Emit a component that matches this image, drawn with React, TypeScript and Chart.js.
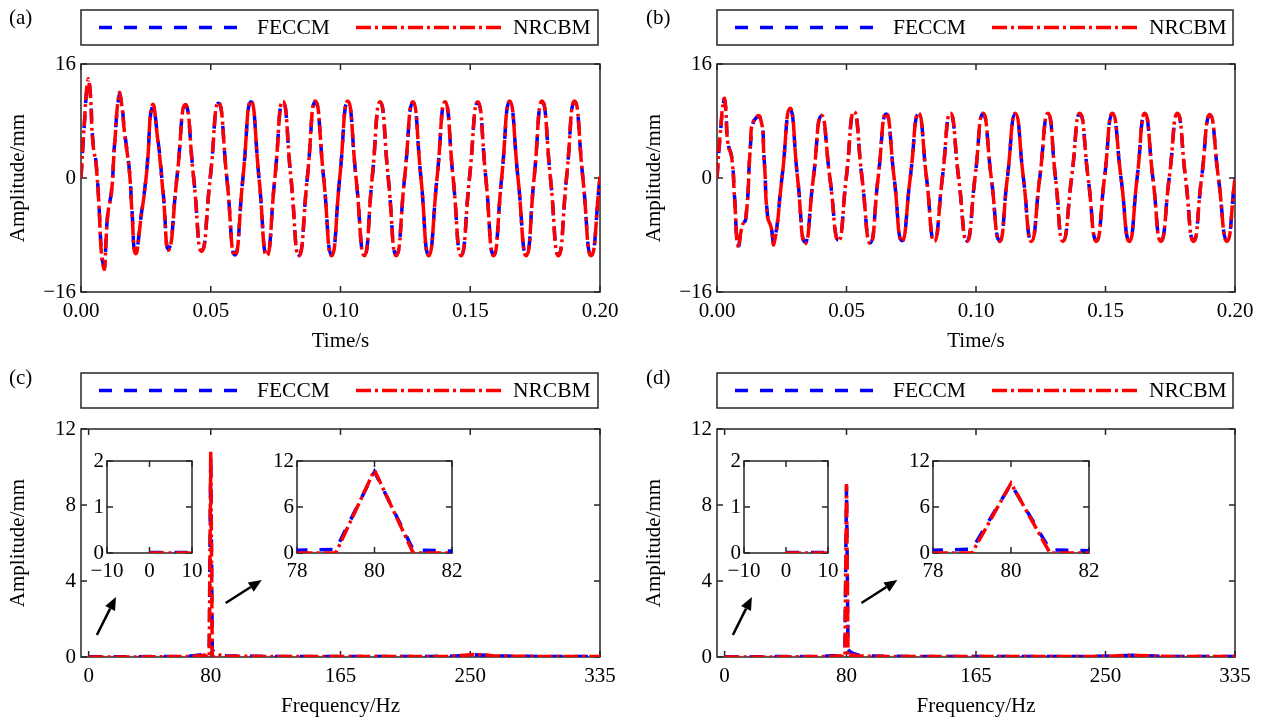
import React, { useEffect, useRef } from 'react';
import { Chart, registerables } from 'chart.js';

Chart.register(...registerables);

const FONT = '"Liberation Serif", "Times New Roman", serif';
const AXIS_COLOR = '#262626';
const BLUE = '#0000ff';
const RED = '#ff0000';
const BLUE_DASH = [13, 12];
const RED_DASH = [15, 4, 3, 4];

const seriesLabels = ['FECCM', 'NRCBM'];

// ---- Panel (a): time response, case 1 ----
const timeA = [
  0, 0.0012, 0.0027, 0.0035, 0.0046, 0.0059, 0.0087, 0.0104, 0.0117, 0.013, 0.0147, 0.0155, 0.0168, 0.0187, 0.0196, 0.021,
  0.0232, 0.0253, 0.0275, 0.0296, 0.0316, 0.0338,
  0.037, 0.0402, 0.0434, 0.0465, 0.0498, 0.053, 0.0562, 0.0593, 0.0624, 0.0655,
  0.0686, 0.0716, 0.0747, 0.0778, 0.0809, 0.084, 0.0872, 0.0903, 0.0935, 0.0966,
  0.0997, 0.1028, 0.106, 0.1092, 0.1122, 0.1153, 0.1184, 0.1215, 0.1247, 0.1279,
  0.131, 0.134, 0.1372, 0.1403, 0.1434, 0.1465, 0.1497, 0.1529, 0.156, 0.159,
  0.1621, 0.1652, 0.1684, 0.1716, 0.1746, 0.1777, 0.1809, 0.184, 0.1871, 0.1902,
  0.1934, 0.1966, 0.2,
];
const ampA_NRCBM = [
  0, 7.2, 13.8, 12.2, 4.9, 1.6, -12.6, -4.9, -2.2, 4.9, 11.9, 10.8, 6.3, 0.7, -4.5, -10.6,
  -5.4, 0.8, 10.2, 5.3, -2.0, -10.1,
  0.1, 10.3, 0, -10.3, 0, 10.6, 0, -10.9, 0, 10.8,
  0, -10.9, 0, 10.8, 0, -10.9, 0, 10.8, 0, -10.9,
  0, 10.8, 0, -10.9, 0, 10.7, 0, -10.9, 0, 10.7,
  0, -10.9, 0, 10.7, 0, -10.9, 0, 10.7, 0, -10.9,
  0, 10.8, 0, -10.9, 0, 10.8, 0, -10.9, 0, 10.8,
  0, -10.9, 0.2,
];
const ampA_FECCM = [
  0, 7.0, 13.5, 12.4, 5.1, 1.8, -12.3, -4.7, -2.0, 5.1, 11.6, 10.9, 6.5, 0.9, -4.3, -10.4,
  -5.2, 1.0, 10.0, 5.5, -1.8, -9.9,
  0.2, 10.2, 0.1, -10.2, 0.1, 10.5, 0, -10.8, 0, 10.7,
  0, -10.8, 0, 10.7, 0, -10.8, 0, 10.7, 0, -10.8,
  0, 10.7, 0, -10.8, 0, 10.6, 0, -10.8, 0, 10.6,
  0, -10.8, 0, 10.6, 0, -10.8, 0, 10.6, 0, -10.8,
  0, 10.7, 0, -10.8, 0, 10.7, 0, -10.8, 0, 10.7,
  0, -10.8, 0.1,
];

// ---- Panel (b): time response, case 2 ----
const timeB = [
  0, 0.0012, 0.0027, 0.0033, 0.0042, 0.0057, 0.0068, 0.0082, 0.0098, 0.0111, 0.013, 0.014, 0.0166, 0.0182, 0.0195, 0.0208, 0.022,
  0.0251, 0.0282, 0.0311, 0.034, 0.0372, 0.0403, 0.0436, 0.0469, 0.0499, 0.0529,
  0.056, 0.0592, 0.0622, 0.0653, 0.0684, 0.0714, 0.0746, 0.0778, 0.0809, 0.0839,
  0.087, 0.0901, 0.0933, 0.0965, 0.0996, 0.1027, 0.1059, 0.1091, 0.1121, 0.1152,
  0.1183, 0.1214, 0.1246, 0.1278, 0.1307, 0.1336, 0.1369, 0.1401, 0.1433, 0.1465,
  0.1496, 0.1527, 0.156, 0.1592, 0.1622, 0.1652, 0.1683, 0.1714, 0.1746, 0.1778,
  0.1809, 0.184, 0.1871, 0.1903, 0.1936, 0.1969, 0.2,
];
const ampB_NRCBM = [
  0, 6.0, 11.1, 10.0, 4.9, 2.8, -3.0, -9.6, -6.6, -5.9, 4.9, 7.9, 8.6, 2.5, -5.4, -6.8, -9.2,
  0, 9.8, 0, -9.2, 0, 8.8, 0, -8.8, 0, 9.3,
  0, -9.2, 0, 9.1, 0, -8.9, 0, 9.1, 0, -8.9,
  0, 9.1, 0, -8.9, 0, 9.1, 0, -8.9, 0, 9.1,
  0, -8.9, 0, 9.1, 0, -8.9, 0, 9.1, 0, -8.9,
  0, 9.1, 0, -8.9, 0, 9.1, 0, -8.9, 0, 9.1,
  0, -8.9, 0, 8.9, 0, -8.9, 0,
];
const ampB_FECCM = [
  0, 5.8, 10.9, 10.1, 5.0, 2.9, -2.8, -9.4, -6.5, -5.8, 5.0, 7.8, 8.5, 2.6, -5.2, -6.7, -9.0,
  0.1, 9.6, 0.1, -9.0, 0, 8.7, 0, -8.7, 0, 9.2,
  0, -9.1, 0, 9.0, 0, -8.8, 0, 9.0, 0, -8.8,
  0, 9.0, 0, -8.8, 0, 9.0, 0, -8.8, 0, 9.0,
  0, -8.8, 0, 9.0, 0, -8.8, 0, 9.0, 0, -8.8,
  0, 9.0, 0, -8.8, 0, 9.0, 0, -8.8, 0, 9.0,
  0, -8.8, 0, 8.8, 0, -8.8, 0,
];

// ---- Panel (c): spectrum, case 1 ----
const freqC = [
  0, 10, 20, 30, 40, 50, 60, 65, 70, 74, 76, 78, 79, 80, 81, 82, 84, 87, 90, 95,
  100, 110, 125, 140, 165, 190, 210, 225, 235, 242, 248, 252, 256, 260, 265, 272, 280, 295, 310, 335,
];
const specC_FECCM = [
  0.01, 0.01, 0.01, 0.01, 0.02, 0.02, 0.03, 0.04, 0.08, 0.12, 0.15, 0.35, 0.45, 10.6, 0.4, 0.25, 0.18, 0.1, 0.07, 0.05,
  0.05, 0.04, 0.03, 0.03, 0.02, 0.02, 0.02, 0.03, 0.04, 0.06, 0.09, 0.12, 0.11, 0.09, 0.07, 0.05, 0.04, 0.03, 0.02, 0.02,
];
const specC_NRCBM = [
  0, 0, 0, 0, 0.01, 0.01, 0.02, 0.03, 0.05, 0.08, 0.1, 0, 0, 10.8, 0, 0, 0.15, 0.08, 0.05, 0.04,
  0.04, 0.03, 0.03, 0.02, 0.02, 0.02, 0.02, 0.03, 0.04, 0.06, 0.1, 0.13, 0.12, 0.1, 0.07, 0.05, 0.04, 0.03, 0.02, 0.02,
];

// ---- Panel (d): spectrum, case 2 ----
const freqD = [
  0, 10, 20, 30, 40, 50, 60, 65, 70, 74, 76, 78, 79, 80, 81, 82, 84, 87, 90, 95,
  100, 110, 125, 140, 165, 190, 210, 225, 240, 250, 258, 264, 268, 272, 278, 285, 295, 310, 320, 335,
];
const specD_FECCM = [
  0.01, 0.01, 0.01, 0.02, 0.02, 0.02, 0.03, 0.04, 0.06, 0.08, 0.1, 0.35, 0.5, 9.0, 0.4, 0.3, 0.2, 0.12, 0.08, 0.05,
  0.05, 0.04, 0.03, 0.03, 0.02, 0.02, 0.02, 0.02, 0.03, 0.04, 0.06, 0.08, 0.09, 0.08, 0.06, 0.04, 0.03, 0.02, 0.02, 0.02,
];
const specD_NRCBM = [
  0, 0, 0, 0, 0.01, 0.01, 0.02, 0.02, 0.03, 0.05, 0.06, 0, 0, 9.1, 0, 0, 0.12, 0.07, 0.05, 0.04,
  0.03, 0.03, 0.02, 0.02, 0.02, 0.02, 0.02, 0.02, 0.03, 0.04, 0.06, 0.08, 0.09, 0.08, 0.06, 0.04, 0.03, 0.02, 0.02, 0.02,
];

// ---- tick labels ----
const timeTicks = [0, 0.05, 0.1, 0.15, 0.2];
const timeAmpTicks = [-16, 0, 16];
const freqTicks = [0, 80, 165, 250, 335];
const freqAmpTicks = [0, 4, 8, 12];
const lowFreqTicks = [-10, 0, 10];
const lowAmpTicks = [0, 1, 2];
const peakFreqTicks = [78, 80, 82];
const peakAmpTicks = [0, 6, 12];

// annotation arrows in data units [x1, y1, x2, y2]
const freqArrows = [
  [5.4, 1.16, 17.9, 3.16],
  [89.8, 2.84, 113.4, 4.05],
];

type Rect = { l: number; t: number; r: number; b: number };
type Spec = {
  id: string;
  canvas: Rect;
  area: Rect;
  xs: number[];
  fe: number[];
  nr: number[];
  smooth: boolean;
  xMin: number;
  xMax: number;
  xTicks: number[];
  xFmt: (v: number) => string;
  yMin: number;
  yMax: number;
  yTicks: number[];
  xTitle?: string;
  yTitle?: string;
  xTitleY?: number;
  yTitleX?: number;
  xLabelGap: number;
  yLabelPad: number;
  legend?: { top: number; bottom: number };
  panel?: { text: string; x: number; y: number };
  arrows?: number[][];
  inset?: boolean;
};

const FS = 21;
const LH = FS * 1.2;

const signed = (v: number) => (v < 0 ? '\u2212' + Math.abs(v) : String(v));
const fixed2 = (v: number) => v.toFixed(2);

const framePlugin = {
  id: 'frame',
  beforeDraw(chart: any, _args: any, opts: any) {
    if (!opts.whiteArea) return;
    const { ctx, chartArea: a } = chart;
    ctx.save();
    ctx.fillStyle = '#ffffff';
    ctx.fillRect(a.left, a.top, a.right - a.left, a.bottom - a.top);
    ctx.restore();
  },
  beforeDatasetsDraw(chart: any) {
    const { ctx, chartArea: a, scales } = chart;
    const x = scales.x;
    const y = scales.y;
    const tl = 6;
    ctx.save();
    ctx.strokeStyle = AXIS_COLOR;
    ctx.lineWidth = 1.5;
    ctx.strokeRect(a.left, a.top, a.right - a.left, a.bottom - a.top);
    ctx.beginPath();
    x.ticks.forEach((t: any) => {
      const px = x.getPixelForValue(t.value);
      ctx.moveTo(px, a.bottom);
      ctx.lineTo(px, a.bottom - tl);
      ctx.moveTo(px, a.top);
      ctx.lineTo(px, a.top + tl);
    });
    y.ticks.forEach((t: any) => {
      const py = y.getPixelForValue(t.value);
      ctx.moveTo(a.left, py);
      ctx.lineTo(a.left + tl, py);
      ctx.moveTo(a.right, py);
      ctx.lineTo(a.right - tl, py);
    });
    ctx.stroke();
    ctx.restore();
  },
  afterDatasetsDraw(chart: any, _args: any, opts: any) {
    const { ctx, chartArea: a, scales } = chart;
    const x = scales.x;
    const y = scales.y;
    ctx.save();
    (opts.arrows || []).forEach((ar: number[]) => {
      const x1 = x.getPixelForValue(ar[0]);
      const y1 = y.getPixelForValue(ar[1]);
      const x2 = x.getPixelForValue(ar[2]);
      const y2 = y.getPixelForValue(ar[3]);
      const ang = Math.atan2(y2 - y1, x2 - x1);
      const hl = 13;
      const hw = 5.5;
      const bx = x2 - hl * Math.cos(ang);
      const by = y2 - hl * Math.sin(ang);
      ctx.strokeStyle = '#000';
      ctx.lineWidth = 2.5;
      ctx.beginPath();
      ctx.moveTo(x1, y1);
      ctx.lineTo(bx, by);
      ctx.stroke();
      ctx.fillStyle = '#000';
      ctx.beginPath();
      ctx.moveTo(x2, y2);
      ctx.lineTo(bx + hw * Math.sin(ang), by - hw * Math.cos(ang));
      ctx.lineTo(bx - hw * Math.sin(ang), by + hw * Math.cos(ang));
      ctx.closePath();
      ctx.fill();
    });
    if (opts.legend) {
      const { top, bottom } = opts.legend;
      const L = a.left;
      const R = a.right - 2;
      ctx.strokeStyle = AXIS_COLOR;
      ctx.lineWidth = 1.5;
      ctx.strokeRect(L, top, R - L, bottom - top);
      const cy = (top + bottom) / 2;
      const layout = [
        [18, 160, 176],
        [275, 422, 432],
      ];
      chart.data.datasets.forEach((d: any, i: number) => {
        const [lx1, lx2, tx] = layout[i];
        ctx.save();
        ctx.strokeStyle = d.borderColor;
        ctx.lineWidth = d.borderWidth;
        ctx.setLineDash(d.borderDash);
        ctx.beginPath();
        ctx.moveTo(L + lx1, cy);
        ctx.lineTo(L + lx2, cy);
        ctx.stroke();
        ctx.restore();
        ctx.fillStyle = '#000';
        ctx.font = `21.5px ${FONT}`;
        ctx.textBaseline = 'middle';
        ctx.textAlign = 'left';
        ctx.fillText(d.label, L + tx, cy + 1);
      });
    }
    if (opts.panel) {
      ctx.fillStyle = '#000';
      ctx.font = `${FS}px ${FONT}`;
      ctx.textBaseline = 'middle';
      ctx.textAlign = 'left';
      ctx.fillText(opts.panel.text, opts.panel.x, opts.panel.y);
    }
    ctx.restore();
  },
};

function buildConfig(s: Spec) {
  const padTop = s.area.t - s.canvas.t;
  const padRight = s.canvas.r - s.area.r;
  const yW = s.area.l - s.canvas.l;
  const xH = s.canvas.b - s.area.b;
  const tickFont = { family: FONT, size: FS };
  const mk = (label: string, ys: number[], color: string, dash: number[], order: number) => ({
    label,
    data: s.xs.map((xv, i) => ({ x: xv, y: ys[i] })),
    borderColor: color,
    borderDash: dash,
    borderWidth: 3.5,
    pointRadius: 0,
    fill: false,
    order,
    tension: s.smooth ? 0.55 : 0,
    cubicInterpolationMode: 'default',
  });
  return {
    type: 'line',
    data: {
      datasets: [
        mk(seriesLabels[0], s.fe, BLUE, BLUE_DASH, 2),
        mk(seriesLabels[1], s.nr, RED, RED_DASH, 1),
      ],
    },
    options: {
      responsive: false,
      maintainAspectRatio: false,
      animation: false,
      events: [],
      layout: { padding: { left: 0, top: padTop, right: padRight, bottom: 0 } },
      plugins: {
        legend: { display: false },
        tooltip: { enabled: false },
        frame: {
          whiteArea: !!s.inset,
          arrows: s.arrows,
          legend: s.legend ? { top: s.legend.top - s.canvas.t, bottom: s.legend.bottom - s.canvas.t } : null,
          panel: s.panel ? { text: s.panel.text, x: s.panel.x - s.canvas.l, y: s.panel.y - s.canvas.t } : null,
        },
      },
      scales: {
        x: {
          type: 'linear',
          min: s.xMin,
          max: s.xMax,
          bounds: 'data',
          afterBuildTicks: (sc: any) => {
            sc.ticks = s.xTicks.map((v) => ({ value: v }));
          },
          afterFit: (sc: any) => {
            sc.height = xH;
          },
          grid: { display: false, drawTicks: false },
          border: { display: false },
          ticks: {
            autoSkip: false,
            maxRotation: 0,
            padding: s.xLabelGap - LH / 2,
            font: tickFont,
            color: '#000',
            callback: (v: any) => s.xFmt(Number(v)),
          },
          title: s.xTitle
            ? {
                display: true,
                text: s.xTitle,
                color: '#000',
                font: tickFont,
                padding: { top: 0, bottom: s.canvas.b - (s.xTitleY as number) - LH / 2 },
              }
            : { display: false },
        },
        y: {
          type: 'linear',
          min: s.yMin,
          max: s.yMax,
          bounds: 'data',
          afterBuildTicks: (sc: any) => {
            sc.ticks = s.yTicks.map((v) => ({ value: v }));
          },
          afterFit: (sc: any) => {
            sc.width = yW;
          },
          grid: { display: false, drawTicks: false },
          border: { display: false },
          ticks: {
            autoSkip: false,
            padding: s.yLabelPad,
            font: tickFont,
            color: '#000',
            callback: (v: any) => signed(Number(v)),
          },
          title: s.yTitle
            ? {
                display: true,
                text: s.yTitle,
                color: '#000',
                font: tickFont,
                padding: { top: (s.yTitleX as number) - s.canvas.l - LH / 2, bottom: 0 },
              }
            : { display: false },
        },
      },
    },
    plugins: [framePlugin],
  };
}

const mainCommon = {
  xLabelGap: 19,
  yLabelPad: 5,
  yTitle: 'Amplitude/mm',
};

const insetCommon = {
  xLabelGap: 18,
  yLabelPad: 3,
  smooth: false,
  inset: true,
};

const specs: Spec[] = [
  {
    ...mainCommon,
    id: 'a',
    canvas: { l: 0, t: 0, r: 631, b: 362 },
    area: { l: 81, t: 64, r: 600, b: 292 },
    xs: timeA, fe: ampA_FECCM, nr: ampA_NRCBM, smooth: true,
    xMin: 0, xMax: 0.2, xTicks: timeTicks, xFmt: fixed2,
    yMin: -16, yMax: 16, yTicks: timeAmpTicks,
    xTitle: 'Time/s', xTitleY: 341, yTitleX: 18,
    legend: { top: 10, bottom: 45 },
    panel: { text: '(a)', x: 9, y: 18 },
  },
  {
    ...mainCommon,
    id: 'b',
    canvas: { l: 631, t: 0, r: 1262, b: 362 },
    area: { l: 717, t: 64, r: 1235, b: 292 },
    xs: timeB, fe: ampB_FECCM, nr: ampB_NRCBM, smooth: true,
    xMin: 0, xMax: 0.2, xTicks: timeTicks, xFmt: fixed2,
    yMin: -16, yMax: 16, yTicks: timeAmpTicks,
    xTitle: 'Time/s', xTitleY: 341, yTitleX: 654,
    legend: { top: 10, bottom: 45 },
    panel: { text: '(b)', x: 646, y: 18 },
  },
  {
    ...mainCommon,
    id: 'c',
    canvas: { l: 0, t: 362, r: 631, b: 720 },
    area: { l: 81, t: 429, r: 600, b: 657 },
    xs: freqC, fe: specC_FECCM, nr: specC_NRCBM, smooth: false,
    xMin: -5, xMax: 335, xTicks: freqTicks, xFmt: signed,
    yMin: 0, yMax: 12, yTicks: freqAmpTicks,
    xTitle: 'Frequency/Hz', xTitleY: 706, yTitleX: 18,
    legend: { top: 373, bottom: 408 },
    panel: { text: '(c)', x: 9, y: 378 },
    arrows: freqArrows,
  },
  {
    ...mainCommon,
    id: 'd',
    canvas: { l: 631, t: 362, r: 1262, b: 720 },
    area: { l: 717, t: 429, r: 1235, b: 657 },
    xs: freqD, fe: specD_FECCM, nr: specD_NRCBM, smooth: false,
    xMin: -5, xMax: 335, xTicks: freqTicks, xFmt: signed,
    yMin: 0, yMax: 12, yTicks: freqAmpTicks,
    xTitle: 'Frequency/Hz', xTitleY: 706, yTitleX: 654,
    legend: { top: 373, bottom: 408 },
    panel: { text: '(d)', x: 646, y: 378 },
    arrows: freqArrows,
  },
  {
    ...insetCommon,
    id: 'cLow',
    canvas: { l: 59, t: 445, r: 208, b: 585 },
    area: { l: 107, t: 461, r: 192, b: 553 },
    xs: freqC, fe: specC_FECCM, nr: specC_NRCBM,
    xMin: -10, xMax: 10, xTicks: lowFreqTicks, xFmt: signed,
    yMin: 0, yMax: 2, yTicks: lowAmpTicks,
  },
  {
    ...insetCommon,
    id: 'cPeak',
    canvas: { l: 249, t: 445, r: 468, b: 585 },
    area: { l: 297, t: 461, r: 452, b: 553 },
    xs: freqC, fe: specC_FECCM, nr: specC_NRCBM,
    xMin: 78, xMax: 82, xTicks: peakFreqTicks, xFmt: signed,
    yMin: 0, yMax: 12, yTicks: peakAmpTicks,
  },
  {
    ...insetCommon,
    id: 'dLow',
    canvas: { l: 696, t: 445, r: 844, b: 585 },
    area: { l: 744, t: 461, r: 828, b: 553 },
    xs: freqD, fe: specD_FECCM, nr: specD_NRCBM,
    xMin: -10, xMax: 10, xTicks: lowFreqTicks, xFmt: signed,
    yMin: 0, yMax: 2, yTicks: lowAmpTicks,
  },
  {
    ...insetCommon,
    id: 'dPeak',
    canvas: { l: 885, t: 445, r: 1105, b: 585 },
    area: { l: 933, t: 461, r: 1089, b: 553 },
    xs: freqD, fe: specD_FECCM, nr: specD_NRCBM,
    xMin: 78, xMax: 82, xTicks: peakFreqTicks, xFmt: signed,
    yMin: 0, yMax: 12, yTicks: peakAmpTicks,
  },
];

function PanelChart({ spec }: { spec: Spec }) {
  const ref = useRef<HTMLCanvasElement>(null);
  useEffect(() => {
    if (!ref.current) return;
    const chart = new Chart(ref.current, buildConfig(spec) as any);
    return () => chart.destroy();
  }, [spec]);
  const w = spec.canvas.r - spec.canvas.l;
  const h = spec.canvas.b - spec.canvas.t;
  return (
    <canvas
      ref={ref}
      width={w}
      height={h}
      style={{ position: 'absolute', left: spec.canvas.l, top: spec.canvas.t, width: w, height: h }}
    />
  );
}

export default function App() {
  useEffect(() => {
    document.body.style.margin = '0';
  }, []);
  return (
    <div
      style={{
        position: 'fixed',
        left: 0,
        top: 0,
        width: 1262,
        height: 720,
        background: '#ffffff',
        overflow: 'hidden',
      }}
    >
      {specs.map((s) => (
        <PanelChart key={s.id} spec={s} />
      ))}
    </div>
  );
}
